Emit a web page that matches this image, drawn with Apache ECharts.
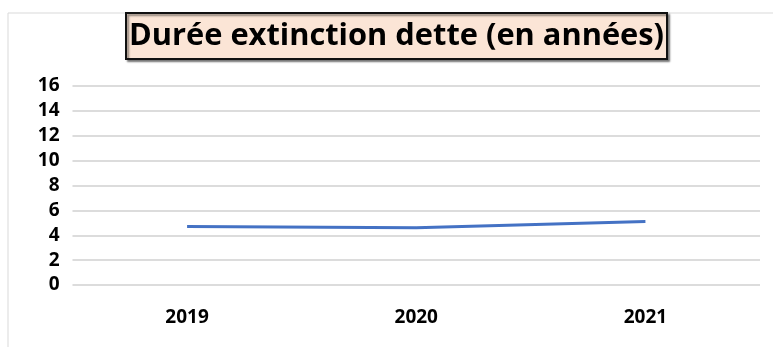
<!DOCTYPE html>
<html>
<head>
<meta charset="utf-8">
<script src="https://cdn.jsdelivr.net/npm/echarts@6/dist/echarts.min.js"></script>
<style>
  html, body { margin: 0; padding: 0; background: #ffffff; }
  #chart { width: 773px; height: 347px; }
</style>
</head>
<body>
<div id="chart"></div>
<script>
// Debt extinction duration by year
const years = ['2019', '2020', '2021'];
const durations = [4.7, 4.6, 5.1];
const yTicks = { min: 0, max: 16, step: 2 };
const titleText = 'Durée extinction dette (en années)';

const chart = echarts.init(document.getElementById('chart'), null, { renderer: 'canvas' });

const labelFont = {
  fontFamily: 'Open Sans',
  fontWeight: 'bold',
  fontSize: 19,
  color: '#000000'
};

chart.setOption({
  backgroundColor: '#ffffff',
  animation: false,
  title: {
    text: titleText,
    left: 126,
    top: 13,
    padding: [5, 3, 5, 3],
    backgroundColor: '#FBE5D6',
    borderColor: '#111111',
    borderWidth: 2,
    shadowColor: 'rgba(0,0,0,0.45)',
    shadowBlur: 2,
    shadowOffsetX: 2,
    shadowOffsetY: 2,
    textStyle: {
      fontFamily: 'Open Sans',
      fontWeight: 'bold',
      fontSize: 30.8,
      color: '#000000',
      lineHeight: 36
    }
  },
  graphic: [
    {
      type: 'rect',
      z: -10,
      silent: true,
      shape: { x: 8, y: 13, width: 800, height: 400 },
      style: { fill: 'none', stroke: '#d9d9d9', lineWidth: 1 }
    }
  ],
  grid: {
    left: 72.5,
    right: 13,
    top: 86,
    bottom: 62,
    containLabel: false
  },
  xAxis: {
    type: 'category',
    data: years,
    boundaryGap: true,
    axisLine: { show: false },
    axisTick: { show: false },
    axisLabel: Object.assign({ margin: 23 }, labelFont)
  },
  yAxis: {
    type: 'value',
    min: yTicks.min,
    max: yTicks.max,
    interval: yTicks.step,
    axisLine: { show: false },
    axisTick: { show: false },
    splitLine: { lineStyle: { color: '#dcdcdc', width: 2 } },
    axisLabel: Object.assign({ margin: 13 }, labelFont)
  },
  series: [
    {
      type: 'line',
      data: durations,
      symbol: 'none',
      lineStyle: { color: '#4472C4', width: 3 },
      itemStyle: { color: '#4472C4' }
    }
  ]
});
</script>
</body>
</html>
